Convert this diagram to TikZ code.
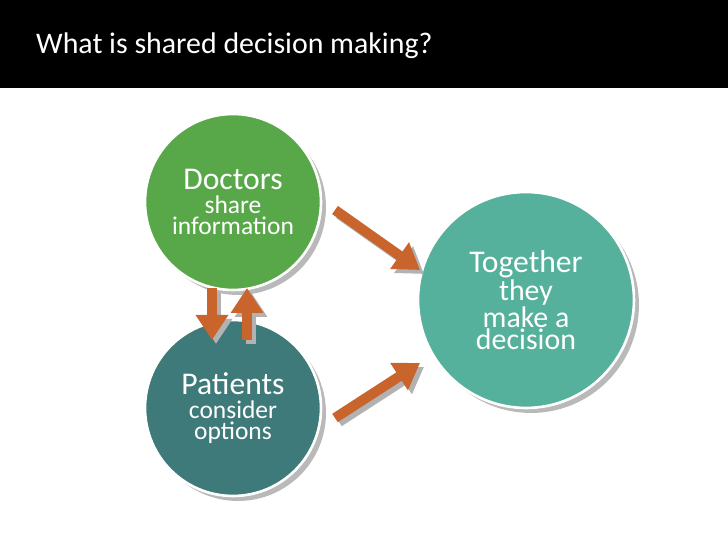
\documentclass[tikz,border=0pt]{standalone}
\usepackage{fontspec}
\setmainfont{Carlito}
\usetikzlibrary{arrows.meta}
\definecolor{docgreen}{HTML}{58A84A}
\definecolor{patteal}{HTML}{3E7A7A}
\definecolor{togmint}{HTML}{55B19B}
\definecolor{arroworange}{HTML}{C8642C}
\newcommand{\bigtxt}{\fontsize{18}{22}\selectfont}
\newcommand{\smalltxt}{\fontsize{14.5}{17}\selectfont}
\newcommand{\midtxt}{\fontsize{17}{20}\selectfont}
\tikzset{
  bubble/.style={circle,draw=white,line width=1.5pt,text=white,align=center,inner sep=0pt},
  backdisc/.style={circle,fill=gray!55,inner sep=0pt},
  flow/.style={arroworange,line width=0.2cm,-{Triangle[width=0.62cm,length=0.5cm]}},
  flowback/.style={gray!60,line width=0.2cm,-{Triangle[width=0.62cm,length=0.5cm]}}
}
\begin{document}
\begin{tikzpicture}[x=0.02cm,y=-0.02cm]
\useasboundingbox (0,0) rectangle (728,546);
\fill[black] (0,0) rectangle (728,88);
\node[anchor=west,text=white,font=\fontsize{17}{20}\selectfont] (title) at (30,46) {What is shared decision making?};
% shadows
\node[backdisc,minimum size=3.52cm] (docback) at (238,207) {};
\node[backdisc,minimum size=3.52cm] (patback) at (238,413) {};
\node[backdisc,minimum size=4.32cm] (togback) at (531,305) {};
% circles
\node[bubble,fill=docgreen,minimum size=3.52cm] (doc) at (233,202)
  {\bigtxt Doctors\\[2pt]\smalltxt share\\\smalltxt information};
\node[bubble,fill=patteal,minimum size=3.52cm] (pat) at (233,408)
  {\bigtxt Patients\\[2pt]\smalltxt consider\\\smalltxt options};
\node[bubble,fill=togmint,minimum size=4.32cm] (tog) at (526,300)
  {\bigtxt Together\\\midtxt they\\\midtxt make a\\\midtxt decision};
% connectors
\coordinate (a1) at (335,210); \coordinate (a2) at (420,270);
\coordinate (b1) at (335,418); \coordinate (b2) at (420,363);
\coordinate (d1) at (212,288); \coordinate (d2) at (212,340);
\coordinate (u1) at (247,340); \coordinate (u2) at (247,288);
\foreach \s/\e in {a1/a2,b1/b2,d1/d2,u1/u2}{
  \draw[flowback] ([shift={(4,4)}]\s) -- ([shift={(4,4)}]\e);
  \draw[flow] (\s) -- (\e);
}
\end{tikzpicture}
\end{document}
